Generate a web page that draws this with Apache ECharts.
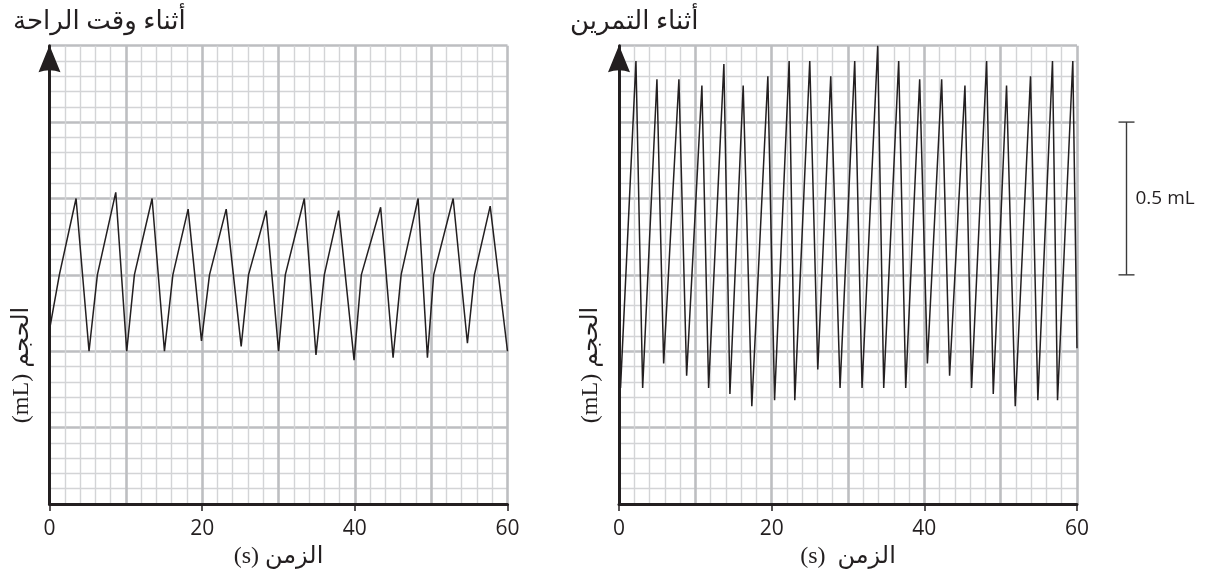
<!DOCTYPE html>
<html>
<head>
<meta charset="utf-8">
<script src="https://cdn.jsdelivr.net/npm/echarts@6/dist/echarts.min.js"></script>
<style>
  html, body { margin: 0; padding: 0; background: #ffffff; }
  #chart { width: 1205px; height: 581px; }
</style>
</head>
<body>
<div id="chart"></div>
<script>
// Spirometer volume traces: time in seconds, volume in mL

// At rest (slow breathing, curved inhalation)
const restTime = [0, 1.29, 3.48, 5.18, 6.27, 8.68, 10.12, 11.12, 13.44, 15.06, 16.16, 18.16,
  19.91, 20.96, 23.15, 25.11, 26.07, 28.39, 30.01, 30.89, 33.38, 34.91, 36.0, 37.88,
  39.9, 40.85, 43.38, 45.01, 46.06, 48.29, 49.51, 50.33, 52.88, 54.75, 55.67, 57.73, 60];
const restVolume = [0.57, 0.75, 1.0, 0.5, 0.75, 1.02, 0.5, 0.75, 1.0, 0.5, 0.75, 0.965,
  0.534, 0.75, 0.965, 0.516, 0.75, 0.96, 0.5, 0.75, 1.0, 0.488, 0.75, 0.96,
  0.471, 0.75, 0.971, 0.479, 0.75, 1.0, 0.479, 0.75, 1.0, 0.526, 0.75, 0.975, 0.5];

// During exercise (fast, deep breathing)
const exerciseTime = [0.2, 2.22, 3.10, 4.97, 5.85, 7.85, 8.86, 10.86, 11.74, 13.74, 14.53,
  16.27, 17.40, 19.50, 20.38, 22.29, 23.03, 24.99, 26.04, 27.74, 28.96, 30.88, 31.84,
  33.89, 34.68, 36.64, 37.56, 39.39, 40.40, 42.27, 43.31, 45.32, 46.19, 48.16, 49.03,
  50.77, 51.91, 53.91, 54.87, 56.79, 57.45, 59.45, 60];
const exerciseVolume = [0.38, 1.45, 0.38, 1.39, 0.46, 1.39, 0.42, 1.37, 0.38, 1.44, 0.36,
  1.37, 0.32, 1.40, 0.34, 1.45, 0.34, 1.45, 0.44, 1.40, 0.38, 1.45, 0.38,
  1.50, 0.38, 1.45, 0.38, 1.39, 0.46, 1.39, 0.42, 1.37, 0.38, 1.45, 0.36,
  1.37, 0.32, 1.40, 0.34, 1.45, 0.34, 1.45, 0.51];

// Axis ranges and labelled ticks
const timeRange = [0, 60];
const timeLabelStep = 20;
const volumeRange = [0, 1.5];
const scaleBarVolume = [0.75, 1.25];   // 0.5 mL reference bar
const scaleBarText = '0.5 mL';

const panelTitles = ['أثناء وقت الراحة', 'أثناء التمرين'];
const xTitles = ['(s) الزمن', '(s)  الزمن'];
const yTitle = '(mL) الحجم';

const INK = '#231f20';
const MAJOR = '#bdbec1';
const MINOR = '#d3d4d6';
const ARABIC_FONT = '"Liberation Serif", "DejaVu Sans", serif';
const ARROW = 'path://M11,0 L22,27 Q11,23 0,27 Z';

const panels = [
  { left: 49.5, titleX: 13, title: panelTitles[0], xTitle: xTitles[0], time: restTime, volume: restVolume },
  { left: 619, titleX: 570, title: panelTitles[1], xTitle: xTitles[1], time: exerciseTime, volume: exerciseVolume }
];
const GRID_TOP = 45.7, GRID_W = 458, GRID_H = 458.3;

const zip = (a, b) => a.map((v, i) => [v, b[i]]);

const grid = [], xAxis = [], yAxis = [], series = [];
panels.forEach((p, i) => {
  grid.push({ left: p.left, top: GRID_TOP, width: GRID_W, height: GRID_H, containLabel: false });
  // grid-paper lines + black baseline
  xAxis.push({
    gridIndex: i, type: 'value', min: timeRange[0], max: timeRange[1], interval: 10,
    position: 'bottom',
    axisLine: { show: true, onZero: false, lineStyle: { color: INK, width: 3 } },
    axisTick: { show: false }, axisLabel: { show: false },
    minorTick: { show: false, splitNumber: 5 },
    splitLine: { show: true, lineStyle: { color: MAJOR, width: 2.6 } },
    minorSplitLine: { show: true, lineStyle: { color: MINOR, width: 1.4 } }
  });
  // labelled ticks every 20 s
  xAxis.push({
    gridIndex: i, type: 'value', min: timeRange[0], max: timeRange[1], interval: timeLabelStep,
    position: 'bottom',
    axisLine: { show: false, onZero: false },
    axisTick: { show: true, length: 7, lineStyle: { color: INK, width: 1.5 } },
    axisLabel: { show: true, color: INK, fontSize: 21, margin: 15, fontFamily: '"Open Sans", sans-serif' },
    splitLine: { show: false }
  });
  yAxis.push({
    gridIndex: i, type: 'value', min: volumeRange[0], max: volumeRange[1], interval: 0.25,
    axisLine: {
      show: true, onZero: false, lineStyle: { color: INK, width: 3 },
      symbol: ['none', ARROW], symbolSize: [22, 27], symbolOffset: [0, -13]
    },
    axisTick: { show: false }, axisLabel: { show: false },
    minorTick: { show: false, splitNumber: 5 },
    splitLine: { show: true, lineStyle: { color: MAJOR, width: 2.6 } },
    minorSplitLine: { show: true, lineStyle: { color: MINOR, width: 1.4 } }
  });
  series.push({
    type: 'line', xAxisIndex: 2 * i, yAxisIndex: i,
    data: zip(p.time, p.volume),
    showSymbol: false, symbol: 'none', smooth: false,
    lineStyle: { color: INK, width: 1.5 },
    z: 5, clip: false
  });
});

const chart = echarts.init(document.getElementById('chart'));
chart.setOption({ animation: false, backgroundColor: '#ffffff', grid, xAxis, yAxis, series });

// text and the volume scale bar, placed from the axes
const graphic = [];
panels.forEach((p, i) => {
  const x0 = chart.convertToPixel({ xAxisIndex: 2 * i }, timeRange[0]);
  const x1 = chart.convertToPixel({ xAxisIndex: 2 * i }, timeRange[1]);
  graphic.push({
    type: 'text', x: p.titleX, y: 22,
    style: { text: p.title, font: '26px ' + ARABIC_FONT, fill: INK, align: 'left', verticalAlign: 'middle' }
  });
  graphic.push({
    type: 'text', x: (x0 + x1) / 2, y: 557,
    style: { text: p.xTitle, font: '24px ' + ARABIC_FONT, fill: INK, align: 'center', verticalAlign: 'middle' }
  });
  graphic.push({
    type: 'text', x: x0 - 28, y: 365, rotation: Math.PI / 2,
    style: { text: yTitle, font: '24px ' + ARABIC_FONT, fill: INK, align: 'center', verticalAlign: 'middle' }
  });
});

const barX = 1126.5;
const barTop = chart.convertToPixel({ yAxisIndex: 1 }, scaleBarVolume[1]);
const barBottom = chart.convertToPixel({ yAxisIndex: 1 }, scaleBarVolume[0]);
const barStyle = { stroke: '#3a3a3a', lineWidth: 1.4 };
graphic.push(
  { type: 'line', shape: { x1: barX, y1: barTop, x2: barX, y2: barBottom }, style: barStyle },
  { type: 'line', shape: { x1: barX - 8, y1: barTop, x2: barX + 8, y2: barTop }, style: barStyle },
  { type: 'line', shape: { x1: barX - 8, y1: barBottom, x2: barX + 8, y2: barBottom }, style: barStyle },
  {
    type: 'text', x: barX + 9, y: (barTop + barBottom) / 2,
    style: { text: scaleBarText, font: '19px "Open Sans", sans-serif', fill: INK, align: 'left', verticalAlign: 'middle' }
  }
);
chart.setOption({ graphic });
</script>
</body>
</html>
